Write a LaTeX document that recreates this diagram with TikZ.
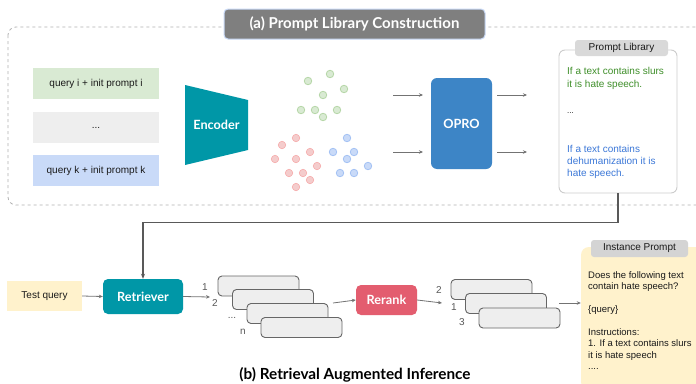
\documentclass[tikz,border=0pt]{standalone}
\usepackage{fontspec}
\setmainfont{Liberation Sans}
\newfontfamily\hfont{Lato}
\usetikzlibrary{arrows.meta}
\definecolor{tealc}{HTML}{0097A7}
\definecolor{oproc}{HTML}{3D85C6}
\definecolor{rerankc}{HTML}{E35D6F}
\definecolor{greenbox}{HTML}{D9EAD3}
\definecolor{bluebox}{HTML}{C9DAF8}
\definecolor{greybox}{HTML}{EEEEEE}
\definecolor{yellowbox}{HTML}{FFF2CC}
\definecolor{titlec}{HTML}{7F7F7F}
\definecolor{txtc}{HTML}{1A1A1A}
\definecolor{libgreen}{HTML}{3F8F2A}
\definecolor{libblue}{HTML}{3C78D8}
\definecolor{gdotf}{HTML}{D9EAD3}\definecolor{gdotd}{HTML}{B6D7A8}
\definecolor{rdotf}{HTML}{F4CCCC}\definecolor{rdotd}{HTML}{F4CCCC}
\definecolor{bdotf}{HTML}{C9DAF8}\definecolor{bdotd}{HTML}{A4C2F4}
\tikzset{
  qbox/.style={minimum width=126pt,minimum height=31pt,inner sep=0pt,font=\fontsize{10}{12}\selectfont,text=txtc},
  solid box/.style={rounded corners=6pt,minimum width=#1,inner sep=0pt,text=white,font=\hfont\bfseries\fontsize{12.7}{14}\selectfont},
  card/.style={draw=black!60,fill=greybox,line width=0.9pt,rounded corners=4pt,minimum width=81pt,minimum height=20pt,inner sep=0pt},
  conn/.style={draw=black!55,line width=0.8pt,-{Stealth[length=4pt,width=3.5pt]}},
  conn2/.style={draw=black!65,line width=1.1pt,-{Stealth[length=5pt,width=4pt]}},
  num/.style={text=black!65,font=\fontsize{10}{12}\selectfont,inner sep=0pt},
  tag/.style={fill=black!15,rounded corners=3pt,inner sep=0pt,font=\fontsize{10}{12}\selectfont,text=txtc},
  gdot/.style={circle,fill=gdotf,draw=gdotd,line width=0.8pt,minimum size=7.5pt,inner sep=0pt},
  rdot/.style={circle,fill=rdotf,draw=rdotd!80!red,line width=0.5pt,minimum size=7.5pt,inner sep=0pt},
  bdot/.style={circle,fill=bdotf,draw=bdotd,line width=0.8pt,minimum size=7.5pt,inner sep=0pt},
}
\begin{document}
\begin{tikzpicture}[x=1pt,y=-1pt]
\useasboundingbox (0,0) rectangle (696,383);
\clip (0,0) rectangle (696,383);
\fill[white] (0,0) rectangle (696,383);
% dashed frame
\draw[black!30,dashed,line width=0.8pt,rounded corners=8pt] (8,27) rectangle (720,205);
% title (a)
\node[fill=titlec,draw=bluebox,line width=1pt,rounded corners=4pt,minimum width=261pt,minimum height=30pt,inner sep=0pt,text=white,font=\hfont\bfseries\fontsize{15}{17}\selectfont] (ta) at (354.5,24) {(a) Prompt Library Construction};
% query boxes
\node[qbox,fill=greenbox] (qi) at (96,83.5) {query i + init prompt i};
\node[qbox,fill=greybox] (qd) at (96,127.5) {...};
\node[qbox,fill=bluebox] (qk) at (96,170.5) {query k + init prompt k};
% encoder
\fill[tealc] (185,85) -- (248,100) -- (248,150) -- (185,165) -- cycle;
\node[text=white,font=\hfont\bfseries\fontsize{12.7}{14}\selectfont,inner sep=0pt] (enc) at (216.5,125) {Encoder};
% dots
\foreach \p [count=\i] in {(330,74),(308,81),(344,89),(323,95),(301,110),(315,110),(337,110),(323,117)} \node[gdot] (g\i) at \p {};
\foreach \p [count=\i] in {(296,138),(282,145),(310,152),(275,159),(296,159),(317,166),(289,173),(303,173),(310,180),(296,187)} \node[rdot] (r\i) at \p {};
\foreach \p [count=\i] in {(347,138),(333,152),(354,152),(347,159),(368,166),(340,173),(354,173)} \node[bdot] (b\i) at \p {};
% OPRO
\node[solid box=61pt,fill=oproc,minimum height=91pt] (opro) at (461.5,123.5) {OPRO};
\coordinate (o1s) at (393,95); \coordinate (o1e) at (423,95);
\coordinate (o2s) at (393,152); \coordinate (o2e) at (423,152);
\coordinate (o3s) at (497,95); \coordinate (o3e) at (527,95);
\coordinate (o4s) at (497,152); \coordinate (o4e) at (527,152);
\draw[conn] (o1s) -- (o1e);
\draw[conn] (o2s) -- (o2e);
\draw[conn] (o3s) -- (o3e);
\draw[conn] (o4s) -- (o4e);
% prompt library
\node[draw=black!20,fill=white,line width=0.9pt,rounded corners=6pt,minimum width=118pt,minimum height=143pt,inner sep=0pt] (lib) at (618,121.5) {};
\node[tag,minimum width=93pt,minimum height=16pt] (libtag) at (621.5,48) {Prompt Library};
\node[anchor=north west,align=left,inner sep=0pt,text=libgreen,font=\fontsize{10}{13.4}\selectfont] (lg) at (567,67) {If a text contains slurs\\it is hate speech.};
\node[anchor=west,inner sep=0pt,text=txtc,font=\fontsize{8}{10}\selectfont] (ld) at (567,113) {...};
\node[anchor=north west,align=left,inner sep=0pt,text=libblue,font=\fontsize{10}{12.2}\selectfont] (lb) at (567,145) {If a text contains\\dehumanization it is\\hate speech.};
% part (b)
\node[fill=yellowbox,minimum width=75pt,minimum height=30pt,inner sep=0pt,font=\fontsize{10}{12}\selectfont,text=txtc] (tq) at (44.5,296) {Test query};
\node[solid box=80pt,fill=tealc,minimum height=35pt,rounded corners=5pt] (ret) at (143,296.5) {Retriever};
\draw[conn2] (lib.south) -- ++(0,29) -| (ret.north);
\draw[conn] (tq.east) -- (ret.west);
\coordinate (re1) at (210,297);
\draw[conn] (ret.east) -- (re1);
\node[num] (n1) at (205,287) {1};
\node[num] (n2) at (215,303) {2};
\node[num] (nd) at (232,318) {...};
\node[num] (nn) at (243,332) {n};
\node[card] (c1) at (258.5,286) {};
\node[card] (c2) at (273,299.5) {};
\node[card] (c3) at (287.5,313.5) {};
\node[card] (c4) at (301.5,327.5) {};
\node[solid box=61pt,fill=rerankc,minimum height=30pt,rounded corners=5pt] (rr) at (386.5,300) {Rerank};
\coordinate (rs) at (333,303);
\draw[conn] (rs) -- (rr.west);
\coordinate (re2) at (442,303);
\draw[conn] (rr.east) -- (re2);
\node[num] (m2) at (439,290) {2};
\node[num] (m1) at (454,307) {1};
\node[num] (m3) at (462,322) {3};
\node[card] (d1) at (491.5,289.5) {};
\node[card] (d2) at (506,303.5) {};
\node[card] (d3) at (519.5,318) {};
\coordinate (is) at (559,303);
% instance prompt
\node[fill=yellowbox,rounded corners=8pt,minimum width=140pt,minimum height=143pt,inner sep=0pt] (ip) at (651,318.5) {};
\coordinate (ie) at (ip.west |- is);
\draw[conn] (is) -- (ie);
\node[tag,minimum width=97pt,minimum height=17pt,fill=black!17] (iptag) at (639.5,248.5) {Instance Prompt};
\node[anchor=north west,align=left,inner sep=0pt,text=txtc,font=\fontsize{9.5}{11.4}\selectfont] (iptext) at (588,271.5) {Does the following text\\contain hate speech?\\[11.4pt]\{query\}\\[11.4pt]Instructions:\\1. If a text contains slurs\\it is hate speech\\....};
\node[inner sep=0pt,text=black,font=\hfont\bfseries\fontsize{15.3}{17}\selectfont] (tb) at (355,375) {(b) Retrieval Augmented Inference};
\end{tikzpicture}
\end{document}
